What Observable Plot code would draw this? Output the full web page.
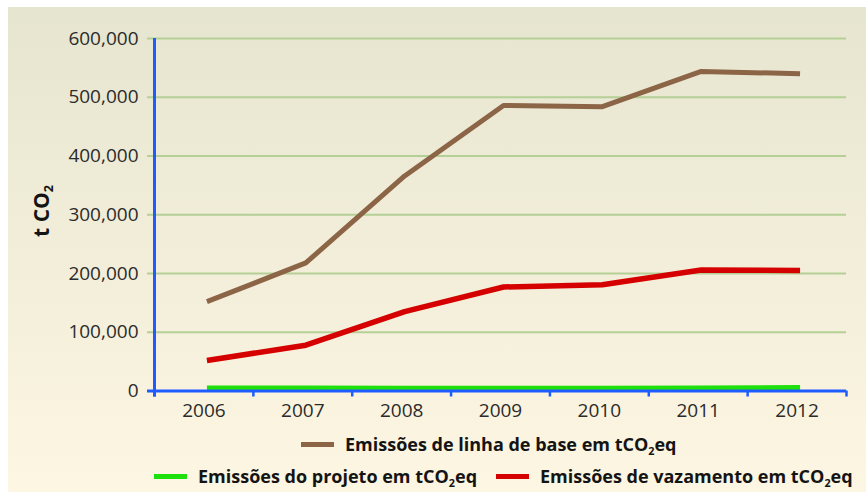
<!DOCTYPE html>
<html>
<head>
<meta charset="utf-8">
<script src="https://cdn.jsdelivr.net/npm/d3@7"></script>
<script src="https://cdn.jsdelivr.net/npm/@observablehq/plot@0.6"></script>
<style>
  html, body { margin: 0; padding: 0; background: #ffffff; }
  body { width: 866px; height: 492px; overflow: hidden; position: relative; font-family: "Open Sans", sans-serif; }
  #panel { position: absolute; left: 8px; top: 7px; width: 858px; height: 485px;
           background: linear-gradient(#e6e5d0, #fdf6e2); }
  #chart { position: absolute; left: 0; top: 0; }
  .ytitle { position: absolute; left: 33px; top: 204px; transform: translate(-50%, -50%) rotate(-90deg);
            font-weight: 700; font-size: 21px; color: #141414; white-space: nowrap; }
  .leg { position: absolute; height: 24px; display: flex; align-items: center; white-space: nowrap;
         font-weight: 700; font-size: 18px; color: #141414; }
  .sw { display: inline-block; width: 33px; height: 5px; margin-right: 11px; }
  sub { font-size: 0.6em; vertical-align: -0.35em; line-height: 0; }
</style>
</head>
<body>
<div id="panel">
  <div id="chart"></div>
  <div class="ytitle">t CO<sub>2</sub></div>
  <div id="legend"></div>
</div>
<script>
// ---- data ----
const years = [2006, 2007, 2008, 2009, 2010, 2011, 2012];
const baseline = [152000, 218000, 366000, 486000, 484000, 544000, 540000];
const leakage = [52000, 78000, 135000, 177000, 181000, 206000, 205000];
const project = [5000, 5000, 4500, 4500, 4500, 5000, 6000];
const yTicks = [0, 100000, 200000, 300000, 400000, 500000, 600000];
const xBounds = [2005.5, 2006.5, 2007.5, 2008.5, 2009.5, 2010.5, 2011.5, 2012.5];

const seriesNames = [
  "Emissões de linha de base em tCO<sub>2</sub>eq",
  "Emissões do projeto em tCO<sub>2</sub>eq",
  "Emissões de vazamento em tCO<sub>2</sub>eq"
];
const colors = ["#8c6446", "#1ee00a", "#d50000"];

const rows = (vals) => years.map((y, i) => ({year: y, value: vals[i]}));

const blue = "#1f5cff";
const grid = "#b5d096";

const chart = Plot.plot({
  width: 858,
  height: 425,
  marginLeft: 146,
  marginRight: 20,
  marginTop: 31,
  marginBottom: 41.5,
  x: {type: "linear", domain: [2005.5, 2012.5]},
  y: {domain: [0, 600000]},
  style: {background: "transparent", fontFamily: "Open Sans, sans-serif", overflow: "visible"},
  marks: [
    Plot.ruleY(yTicks, {stroke: grid, strokeWidth: 2, insetLeft: -7}),
    Plot.axisY(yTicks, {tickSize: 0, tickPadding: 16, fill: "#2b2b2b", fontSize: 19,
                        tickFormat: d3.format(","), label: null}),
    Plot.line(rows(baseline), {x: "year", y: "value", stroke: colors[0], strokeWidth: 5, dx: 3,
                               strokeLinecap: "butt", strokeLinejoin: "miter"}),
    Plot.line(rows(leakage), {x: "year", y: "value", stroke: colors[2], strokeWidth: 5.5, dx: 3,
                              strokeLinecap: "butt", strokeLinejoin: "miter"}),
    Plot.line(rows(project), {x: "year", y: "value", stroke: colors[1], strokeWidth: 5, dx: 3,
                              strokeLinecap: "butt"}),
    Plot.axisX(xBounds, {tickSize: 6, stroke: blue, strokeWidth: 2.5, tickFormat: () => "", label: null}),
    Plot.axisX(years, {tickSize: 0, tickPadding: 12, fill: "#2b2b2b", fontSize: 19,
                       tickFormat: d => String(d), label: null}),
    Plot.ruleX([2005.5], {stroke: blue, strokeWidth: 3, insetBottom: -6}),
    Plot.ruleY([0], {stroke: blue, strokeWidth: 3, insetLeft: -7})
  ]
});
document.getElementById("chart").appendChild(chart);

// ---- legend (HTML, below the plot area) ----
const legendPos = [
  {left: 293, top: 437},
  {left: 146, top: 469},
  {left: 488, top: 469}
];
const legend = document.getElementById("legend");
seriesNames.forEach((name, i) => {
  const d = document.createElement("div");
  d.className = "leg";
  d.style.left = legendPos[i].left + "px";
  d.style.top = (legendPos[i].top - 12) + "px";
  d.innerHTML = `<span class="sw" style="background:${colors[i]}"></span><span>${name}</span>`;
  legend.appendChild(d);
});
</script>
</body>
</html>
